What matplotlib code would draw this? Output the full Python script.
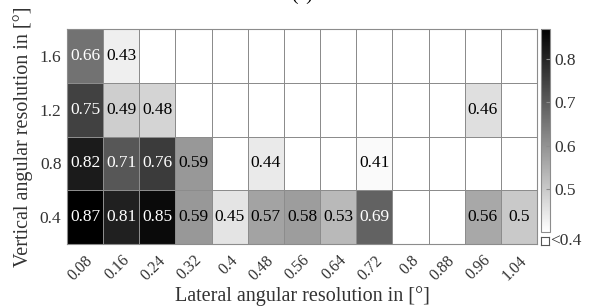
import numpy as np
import matplotlib
matplotlib.use('Agg')
import matplotlib.pyplot as plt
from matplotlib.colors import Normalize

# Data
lateral = ['0.08', '0.16', '0.24', '0.32', '0.4', '0.48', '0.56',
           '0.64', '0.72', '0.8', '0.88', '0.96', '1.04']
vertical = ['0.4', '0.8', '1.2', '1.6']
nan = np.nan
row_04 = [0.87, 0.81, 0.85, 0.59, 0.45, 0.57, 0.58, 0.53, 0.69, nan, nan, 0.56, 0.5]
row_08 = [0.82, 0.71, 0.76, 0.59, nan, 0.44, nan, nan, 0.41, nan, nan, nan, nan]
row_12 = [0.75, 0.49, 0.48, nan, nan, nan, nan, nan, nan, nan, nan, 0.46, nan]
row_16 = [0.66, 0.43, nan, nan, nan, nan, nan, nan, nan, nan, nan, nan, nan]

vmin, vmax = 0.4, 0.87
cbar_ticks = [0.5, 0.6, 0.7, 0.8]

plt.rcParams['font.family'] = 'Liberation Serif'
fs = 12.5

data = np.array([row_04, row_08, row_12, row_16])

fig = plt.figure(figsize=(6.02, 3.07), dpi=100)
W, H = 602, 307


def px_axes(x0, y0, x1, y1):
    return fig.add_axes([x0 / W, 1 - y1 / H, (x1 - x0) / W, (y1 - y0) / H])


ax = px_axes(67, 29, 537, 244)
cmap = plt.get_cmap('gray_r').copy()
cmap.set_bad('white')
cmap.set_under('white')
norm = Normalize(vmin=vmin, vmax=vmax)
mesh = ax.pcolormesh(np.ma.masked_invalid(data), cmap=cmap, norm=norm,
                     edgecolor='#8c8c8c', linewidth=0.7)
ax.set_xlim(0, len(lateral))
ax.set_ylim(0, len(vertical))
for s in ax.spines.values():
    s.set_color('#8c8c8c')
    s.set_linewidth(0.8)

for i in range(len(vertical)):
    for j in range(len(lateral)):
        v = data[i, j]
        if np.isnan(v):
            continue
        txt = '{:g}'.format(v)
        col = 'white' if v > 0.6 else 'black'
        ax.text(j + 0.5, i + 0.5, txt, ha='center', va='center',
                fontsize=fs, color=col)

ax.set_xticks(np.arange(len(lateral)) + 0.5)
ax.set_xticklabels(lateral, rotation=45, ha='right', rotation_mode='anchor',
                   fontsize=11.5, color='#333333')
ax.set_yticks(np.arange(len(vertical)) + 0.5)
ax.set_yticklabels(vertical, fontsize=fs, color='#333333')
ax.tick_params(length=0, pad=4)
ax.tick_params(axis='x', pad=6)
ax.set_xlabel('Lateral angular resolution in [°]', fontsize=14.5, color='#333333',
              labelpad=2)
ax.set_ylabel('Vertical angular resolution in [°]', fontsize=14.5, color='#333333',
              labelpad=5)
ax.set_title('(a)', fontsize=14, pad=21)

# colorbar
cax = px_axes(541, 29, 550, 232)
cb = fig.colorbar(mesh, cax=cax, ticks=cbar_ticks)
cb.outline.set_edgecolor('#8c8c8c')
cb.outline.set_linewidth(0.8)
cax.tick_params(labelsize=fs, length=3, direction='in', colors='#333333', pad=3)
cax.tick_params(axis='y', color='#8c8c8c')

# "<0.4" box below the colorbar
bax = px_axes(541, 237, 549, 245)
bax.set_xticks([])
bax.set_yticks([])
for s in bax.spines.values():
    s.set_color('#555555')
    s.set_linewidth(0.8)
fig.text(550 / W, 1 - 241 / H, '<0.4', fontsize=fs, va='center', ha='left',
         color='#333333')

fig.savefig('out.png', dpi=100)
